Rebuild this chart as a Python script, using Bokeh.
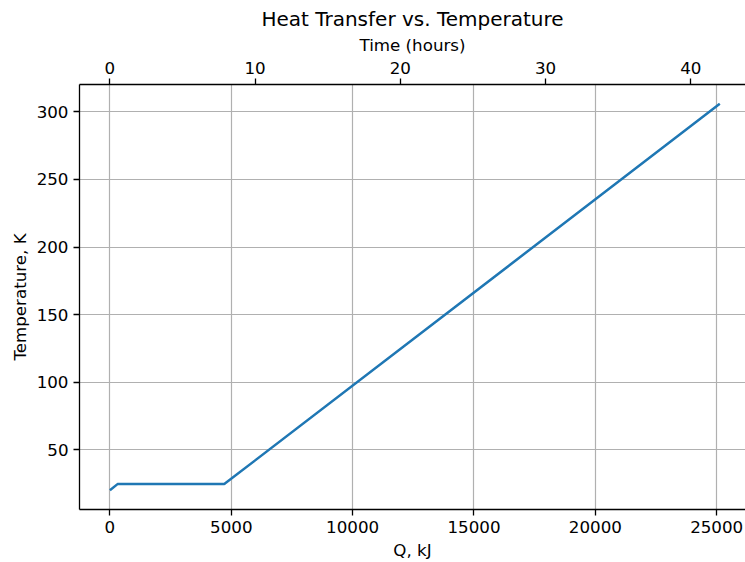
from bokeh.plotting import figure
from bokeh.models import Range1d, LinearAxis, FixedTicker
from bokeh.embed import file_html
from bokeh.resources import INLINE

# Data
q_kj = [0, 313, 4711, 25128]
temp_k = [20.0, 24.5, 24.5, 306.0]

x_ticks = [0, 5000, 10000, 15000, 20000, 25000]
y_ticks = [50, 100, 150, 200, 250, 300]
time_ticks = [0, 10, 20, 30, 40]
kj_per_hour = 598.3

FONT = "DejaVu Sans"
x_start, x_end = -1253, 26187

p = figure(width=745, height=562, output_backend="svg", toolbar_location=None,
           x_range=Range1d(x_start, x_end), y_range=Range1d(5.7, 320.3),
           title="Heat Transfer vs. Temperature")
p.min_border_left = 79
p.min_border_right = 0
p.min_border_top = 84
p.min_border_bottom = 52
p.outline_line_color = None
p.background_fill_color = "white"
p.border_fill_color = "white"

p.title.text_font = FONT
p.title.text_font_size = "20px"
p.title.text_font_style = "normal"
p.title.align = "center"
p.title.text_color = "black"
p.title.standoff = 2
p.title.offset = 0

p.extra_x_ranges = {"time": Range1d(x_start / kj_per_hour, x_end / kj_per_hour)}
top = LinearAxis(x_range_name="time", axis_label="Time (hours)")
p.add_layout(top, "above")

for ax in list(p.xaxis) + list(p.yaxis):
    ax.axis_label_text_font = FONT
    ax.axis_label_text_font_size = "16.7px"
    ax.axis_label_text_font_style = "normal"
    ax.axis_label_text_color = "black"
    ax.major_label_text_font = FONT
    ax.major_label_text_font_size = "16.7px"
    ax.major_label_text_color = "black"
    ax.major_tick_out = 6
    ax.major_tick_in = 0
    ax.minor_tick_line_color = None
    ax.axis_line_color = "black"
    ax.major_tick_line_color = "black"
    ax.axis_line_width = 1.3
    ax.major_tick_line_width = 1.3
    ax.major_label_standoff = 5
    ax.axis_label_standoff = 4

p.xaxis[0].ticker = FixedTicker(ticks=time_ticks)
p.below[0].ticker = FixedTicker(ticks=x_ticks)
p.below[0].axis_label = "Q, kJ"
p.yaxis[0].ticker = FixedTicker(ticks=y_ticks)
p.yaxis[0].axis_label = "Temperature, K"

p.xgrid.ticker = FixedTicker(ticks=x_ticks)
p.ygrid.ticker = FixedTicker(ticks=y_ticks)
for g in (p.xgrid, p.ygrid):
    g.grid_line_color = "#b0b0b0"
    g.grid_line_width = 1.2

p.line(q_kj, temp_k, line_color="#1f77b4", line_width=2.5)

open("out.html", "w").write(file_html(p, INLINE))
